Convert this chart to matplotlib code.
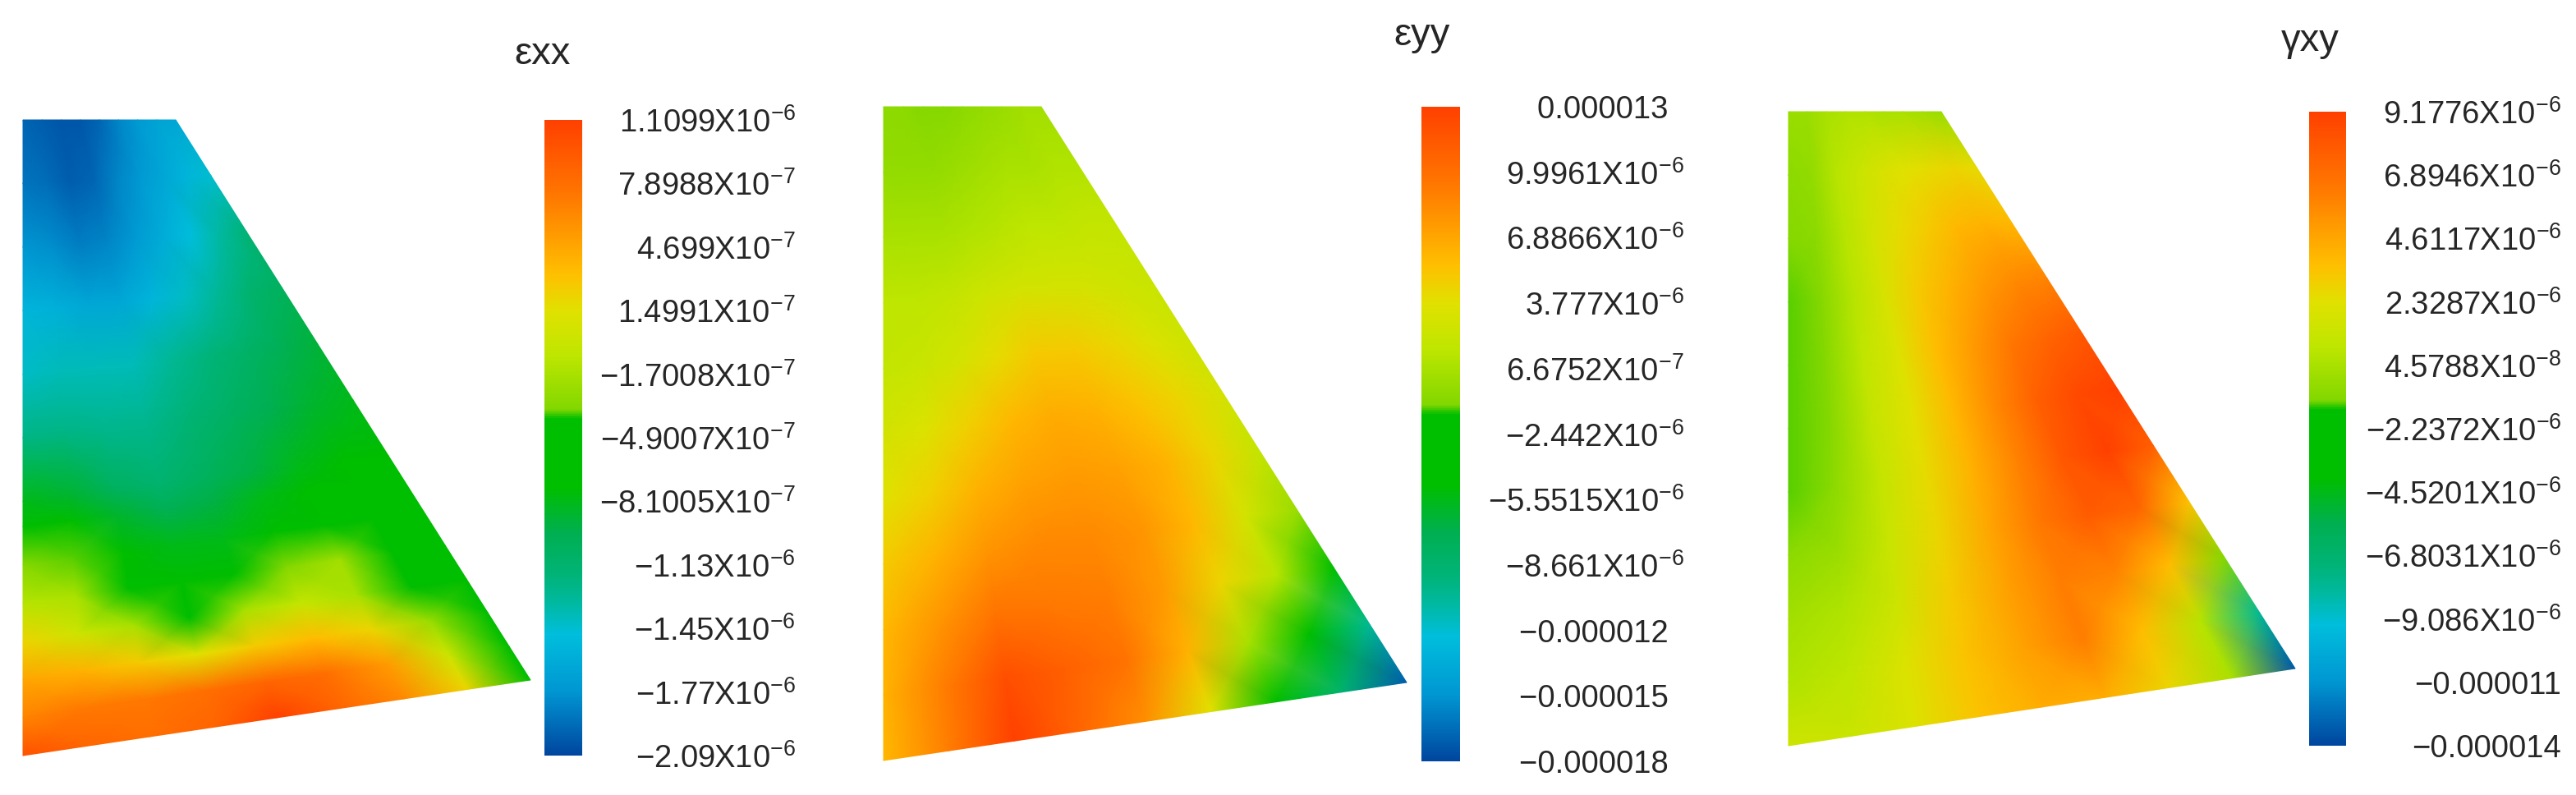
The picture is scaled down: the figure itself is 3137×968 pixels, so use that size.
import numpy as np
import matplotlib
matplotlib.use('Agg')
import matplotlib.pyplot as plt
from matplotlib.colors import LinearSegmentedColormap, Normalize
from matplotlib.cm import ScalarMappable

plt.rcParams['font.family'] = ['Liberation Sans', 'DejaVu Sans']
plt.rcParams['mathtext.fontset'] = 'custom'
plt.rcParams['mathtext.rm'] = 'Liberation Sans'
plt.rcParams['mathtext.default'] = 'rm'

W, H = 3137, 968

# colour bar, bottom to top
cmap_pos = [0, .1, .19, .24, .28, .35, .42, .53, .545, .63, .70, .76, .88, 1]
cmap_col = ['#00469f', '#0096d2', '#00bedc', '#00b9a0', '#00b47a', '#00af50', '#00be00', '#00be00',
            '#82d700', '#bee600', '#e1e100', '#ffbe00', '#ff7800', '#ff4000']
cmap = LinearSegmentedColormap.from_list('bar', list(zip(cmap_pos, cmap_col)), N=512)

u_nodes = [0, .125, .25, .375, .5, .625, .75, .875, 1]

# field levels, % of the colour bar height
exx_v = [0, .1, .2, .3, .4, .5, .6, .64, .7, .76, .82, .88, .94, 1]
exx = [[4, 3, 2, 2, 4, 8, 11, 13, 14],
       [6, 5, 3, 4, 8, 11, 14, 17, 20],
       [10, 9, 7, 8, 11, 15, 19, 24, 29],
       [17, 16, 14, 14, 17, 21, 25, 30, 33],
       [21, 22, 22, 22, 25, 28, 31, 34, 37],
       [27, 27, 26, 26, 29, 32, 35, 38, 40],
       [40, 38, 33, 30, 33, 36, 40, 42, 44],
       [50, 50, 38, 34, 36, 40, 44, 44, 45],
       [55, 54, 44, 40, 40, 48, 52, 46, 43],
       [62, 60, 52, 42, 46, 55, 59, 50, 42],
       [72, 66, 60, 52, 60, 64, 60, 52, 43],
       [80, 78, 74, 70, 74, 76, 72, 58, 44],
       [86, 88, 88, 90, 92, 90, 82, 66, 46],
       [96, 92, 90, 92, 100, 92, 85, 72, 48]]

eyy_v = [0, .1, .2, .3, .4, .5, .6, .7, .8, .9, 1]
eyy = [[56, 56, 55, 55, 56, 57, 58, 59, 59],
       [57, 57, 57, 58, 59, 60, 60, 61, 61],
       [60, 60, 60, 61, 62, 63, 63, 64, 64],
       [63, 63, 64, 66, 67, 67, 67, 66, 65],
       [64, 65, 67, 71, 74, 74, 72, 69, 66],
       [67, 69, 73, 77, 79, 78, 75, 72, 67],
       [70, 73, 78, 81, 82, 81, 78, 72, 64],
       [74, 78, 83, 85, 85, 83, 77, 67, 58],
       [77, 83, 89, 88, 87, 82, 72, 62, 46],
       [78, 87, 97, 93, 89, 78, 60, 44, 25],
       [77, 87, 100, 92, 84, 70, 48, 30, 3]]

gxy_v = [0, .1, .2, .3, .4, .5, .6, .7, .8, .9, 1]
gxy = [[58, 58, 60, 61, 61, 60, 60, 59, 58],
       [56, 57, 62, 65, 68, 70, 71, 72, 71],
       [55, 56, 62, 67, 71, 74, 77, 78, 77],
       [54, 55, 62, 68, 74, 78, 82, 85, 86],
       [54, 55, 63, 69, 76, 82, 88, 92, 95],
       [54, 55, 64, 70, 77, 85, 93, 98, 100],
       [54, 56, 64, 71, 78, 86, 95, 100, 93],
       [56, 58, 65, 72, 80, 88, 94, 92, 75],
       [59, 61, 66, 74, 81, 87, 86, 76, 55],
       [61, 63, 69, 75, 81, 87, 76, 62, 25],
       [66, 65, 69, 75, 79, 79, 72, 60, 2]]

exx_ticks = ['1.1099X10$^{-6}$', '7.8988X10$^{-7}$', '4.699X10$^{-7}$', '1.4991X10$^{-7}$',
             '\u22121.7008X10$^{-7}$', '\u22124.9007X10$^{-7}$', '\u22128.1005X10$^{-7}$',
             '\u22121.13X10$^{-6}$', '\u22121.45X10$^{-6}$', '\u22121.77X10$^{-6}$', '\u22122.09X10$^{-6}$']
eyy_ticks = ['0.000013', '9.9961X10$^{-6}$', '6.8866X10$^{-6}$', '3.777X10$^{-6}$',
             '6.6752X10$^{-7}$', '\u22122.442X10$^{-6}$', '\u22125.5515X10$^{-6}$',
             '\u22128.661X10$^{-6}$', '\u22120.000012', '\u22120.000015', '\u22120.000018']
gxy_ticks = ['9.1776X10$^{-6}$', '6.8946X10$^{-6}$', '4.6117X10$^{-6}$', '2.3287X10$^{-6}$',
             '4.5788X10$^{-8}$', '\u22122.2372X10$^{-6}$', '\u22124.5201X10$^{-6}$',
             '\u22126.8031X10$^{-6}$', '\u22129.086X10$^{-6}$', '\u22120.000011', '\u22120.000014']

# panel geometry in image pixels
panels = [
    dict(name='\u03b5xx', v=exx_v, z=exx, ticks=exx_ticks, left=28, top=146, tr=214, tipx=646, tipy=828,
         bot=920, bar=(663, 709, 146, 920), title=(661, 66), pad=260, trail=False),
    dict(name='\u03b5yy', v=eyy_v, z=eyy, ticks=eyy_ticks, left=1076, top=130, tr=1268, tipx=1713, tipy=831,
         bot=926, bar=(1731, 1778, 130, 927), title=(1732, 43), pad=273, trail=True),
    dict(name='\u03b3xy', v=gxy_v, z=gxy, ticks=gxy_ticks, left=2178, top=136, tr=2364, tipx=2795, tipy=814,
         bot=908, bar=(2812, 2857, 136, 908), title=(2813, 50), pad=262, trail=False),
]


def px_axes(fig, x0, x1, y0, y1):
    return fig.add_axes([x0 / W, 1 - y1 / H, (x1 - x0) / W, (y1 - y0) / H])


fig = plt.figure(figsize=(W / 100, H / 100), dpi=100, facecolor='white')
page = fig.add_axes([0, 0, 1, 1])
page.set_xlim(0, W)
page.set_ylim(H, 0)
page.axis('off')

for p in panels:
    v = np.array(p['v'])
    u = np.array(u_nodes)
    left_y = p['top'] + v * (p['bot'] - p['top'])
    right_y = p['top'] + v * (p['tipy'] - p['top'])
    right_x = p['tr'] + v * (p['tipx'] - p['tr'])
    X = p['left'] + np.outer(right_x - p['left'], u)
    Y = np.outer(left_y, 1 - u) + np.outer(right_y, u)
    Z = np.array(p['z'], dtype=float) / 100
    page.pcolormesh(X, Y, Z, shading='gouraud', cmap=cmap, vmin=0, vmax=1, antialiased=False)

    x0, x1, y0, y1 = p['bar']
    cax = px_axes(fig, x0, x1, y0, y1)
    cb = fig.colorbar(ScalarMappable(Normalize(0, 1), cmap), cax=cax)
    cb.outline.set_visible(False)
    cb.set_ticks(np.linspace(0, 1, 11))
    # plain decimals in the middle panel stop short of the exponent labels
    labels = [t + '\u2002' if p['trail'] and '$' not in t else t for t in p['ticks'][::-1]]
    cb.set_ticklabels(labels)
    cax.tick_params(length=0, pad=p['pad'] * 0.72, labelsize=27.5, labelcolor='#262626')
    for lab in cax.get_yticklabels():
        lab.set_ha('right')
    page.text(p['title'][0], p['title'][1], p['name'], fontsize=34, color='#262626', ha='center', va='center')

fig.savefig('out.png', dpi=100)
